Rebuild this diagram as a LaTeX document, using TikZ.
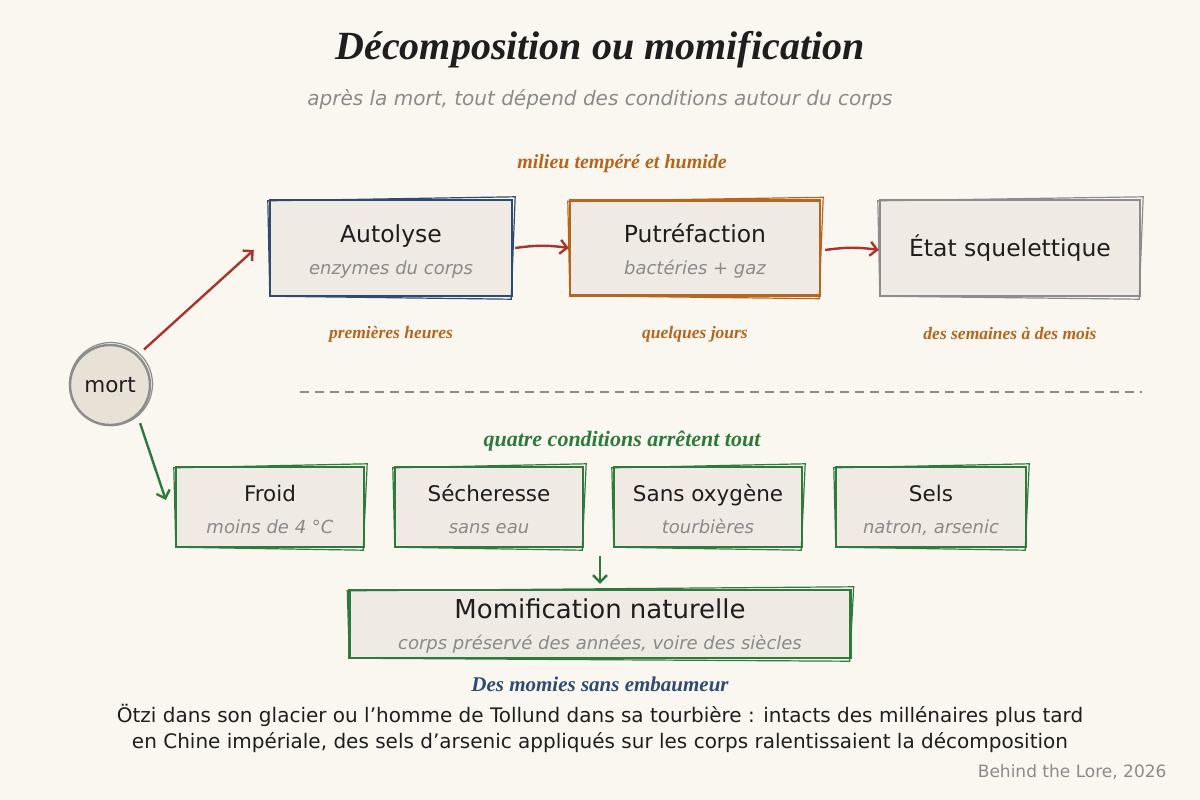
\documentclass[tikz,border=0pt]{standalone}
\usepackage{fontspec}
\setmainfont{DejaVu Sans}
\newfontfamily\handfont{Liberation Serif}
\usetikzlibrary{arrows.meta}

\definecolor{paper}{HTML}{FAF7F1}
\definecolor{boxfill}{HTML}{EFEAE3}
\definecolor{mortfill}{HTML}{E7E1D6}
\definecolor{inkblue}{HTML}{2D4B73}
\definecolor{inkorange}{HTML}{B5651D}
\definecolor{inkgrey}{HTML}{8C8C8C}
\definecolor{inkgreen}{HTML}{2E7A3C}
\definecolor{inkred}{HTML}{A8342A}
\definecolor{subgrey}{HTML}{8A8A8A}
\definecolor{ink}{HTML}{1E1E1E}

\newcommand\fs[1]{\fontsize{#1}{#1}\selectfont}
% second trait, un peu decale, pour l'effet "a main levee"
\newcommand\ghost[2]{%
  \draw[#2, line width=1.2pt] ([shift={(-1,2)}]#1.north west) -- ([shift={(2,-2)}]#1.north east)
    -- ([shift={(-2,2)}]#1.south east) -- ([shift={(1,-1)}]#1.south west) -- cycle;}

\begin{document}
\begin{tikzpicture}[x=1pt,y=-1pt,
  box/.style={draw=#1, fill=boxfill, line width=2.4pt, inner sep=0pt},
  ttl/.style={text=ink, font=\fs{23.5}, text height=18pt, text depth=5.5pt},
  ttlb/.style={text=ink, font=\fs{21.5}, text height=16.5pt, text depth=5pt},
  sub/.style={text=subgrey, font=\fs{18}\itshape, text height=13.7pt, text depth=4.2pt},
  hand/.style={font=\handfont\bfseries\itshape\fs{#1}},
  arr/.style={draw=#1, line width=2.4pt, -{Straight Barb[length=7pt,width=14pt,line width=2.4pt]}}]
\fill[paper] (0,0) rectangle (1200,800);
\useasboundingbox (0,0) rectangle (1200,800);

% titre
\node[hand=40, text=ink] (titre) at (600,50) {Décomposition ou momification};
\node[sub, font=\fs{20}\itshape, text height=15pt, text depth=4.6pt] (soustitre) at (600,100) {après la mort, tout dépend des conditions autour du corps};

% voie humide
\node[hand=20, text=inkorange] (milieu) at (622,164) {milieu tempéré et humide};
\node[box=inkblue, minimum width=242, minimum height=96] (autol) at (391,248) {};
\ghost{autol}{inkblue}
\node[ttl] (autolT) at (391,236) {Autolyse};
\node[sub] (autolS) at (391,270) {enzymes du corps};
\node[box=inkorange, minimum width=250, minimum height=95] (putre) at (695,248) {};
\ghost{putre}{inkorange}
\node[ttl] (putreT) at (695,236) {Putréfaction};
\node[sub] (putreS) at (695,270) {bactéries + gaz};
\node[box=inkgrey, minimum width=260, minimum height=96] (squel) at (1010,248) {};
\ghost{squel}{inkgrey}
\node[ttl] (squelT) at (1010,250) {État squelettique};
\draw[arr=inkred] ([xshift=2pt]autol.east) to[bend left=8] (putre.west);
\draw[arr=inkred] ([xshift=4pt,yshift=-2pt]putre.east) to[bend left=8] ([yshift=-2pt]squel.west);
\node[hand=17.5, text=inkorange] (heures) at (391,334) {premières heures};
\node[hand=17.5, text=inkorange] (jours) at (695,334) {quelques jours};
\node[hand=17.5, text=inkorange] (mois) at (1010,334) {des semaines à des mois};

% depart
\node[circle, draw=inkgrey, fill=mortfill, line width=2.4pt, minimum size=80, inner sep=0pt,
  text=ink, font=\fs{21.5}] (mort) at (110,385) {mort};
\draw[inkgrey, line width=1.2pt] (111,384) circle (41.5);
\draw[arr=inkred, shorten <=8pt] (mort.47) -- ([xshift=-15pt,yshift=-2pt]autol.west);
\draw[inkgrey, line width=1.6pt, dash pattern=on 9pt off 6pt] (300,392) -- (1142,392);

% voie seche
\node[hand=22, text=inkgreen] (quatre) at (622,441) {quatre conditions arrêtent tout};
\node[box=inkgreen, minimum width=188, minimum height=80] (froid) at (270,507) {};
\ghost{froid}{inkgreen}
\node[ttlb] (froidT) at (270,496) {Froid};
\node[sub] (froidS) at (270,529) {moins de 4 °C};
\node[box=inkgreen, minimum width=188, minimum height=80] (sec) at (489,507) {};
\ghost{sec}{inkgreen}
\node[ttlb] (secT) at (489,496) {Sécheresse};
\node[sub] (secS) at (489,529) {sans eau};
\node[box=inkgreen, minimum width=188, minimum height=80] (oxy) at (708,507) {};
\ghost{oxy}{inkgreen}
\node[ttlb] (oxyT) at (708,496) {Sans oxygène};
\node[sub] (oxyS) at (708,529) {tourbières};
\node[box=inkgreen, minimum width=190, minimum height=80] (sels) at (931,507) {};
\ghost{sels}{inkgreen}
\node[ttlb] (selsT) at (931,496) {Sels};
\node[sub] (selsS) at (931,529) {natron, arsenic};
\draw[arr=inkgreen, shorten <=8pt] (mort.-48) -- ([xshift=-9pt,yshift=7pt]froid.west);

\coordinate (conv) at (600,556);
\node[box=inkgreen, minimum width=501, minimum height=68] (momif) at (600,624) {};
\ghost{momif}{inkgreen}
\node[text=ink, font=\fs{26}, text height=20pt, text depth=6pt] (momifT) at (600,611) {Momification naturelle};
\node[sub] (momifS) at (600,645) {corps préservé des années, voire des siècles};
\draw[arr=inkgreen] (conv) -- ([yshift=5pt]momif.north);

% encadre du bas
\node[hand=21, text=inkblue] (encadre) at (600,684) {Des momies sans embaumeur};
\node[text=ink, font=\fs{20}] (ligne1) at (600,715) {Ötzi dans son glacier ou l’homme de Tollund dans sa tourbière : intacts des millénaires plus tard};
\node[text=ink, font=\fs{20}] (ligne2) at (600,743) {en Chine impériale, des sels d’arsenic appliqués sur les corps ralentissaient la décomposition};
\node[anchor=east, text=subgrey, font=\fs{17}] (credit) at (1170,772) {Behind the Lore, 2026};
\end{tikzpicture}
\end{document}
